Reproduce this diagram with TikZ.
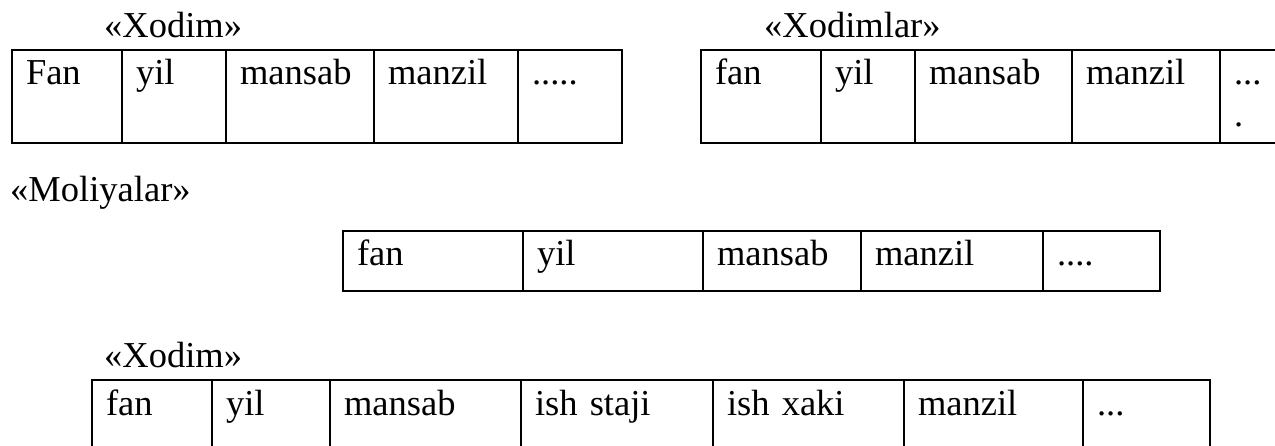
\documentclass[tikz,border=0pt]{standalone}
\usepackage{fontspec}
\setmainfont{Liberation Serif}
\usetikzlibrary{positioning}
\tikzset{
	cell/.style = {rectangle, draw=black, line width=2.2pt, outer sep=0pt, inner xsep=14pt, inner ysep=0pt, text height=35pt, align=left, text width=#1},
	tallrow/.style = {text depth=58pt},
	lowrow/.style = {text depth=25pt},
	openrow/.style = {text depth=60pt},
	title/.style = {anchor=base west, inner sep=0pt}
}
\begin{document}
\begin{tikzpicture}[x=1pt, y=-1pt, font=\fontsize{36.5pt}{42pt}\selectfont]
		
		\clip (0,0) rectangle (1275,446);
		
		% Top left: Xodim
		\node (xodim_title) [title] at (104,38) {«Xodim»};
		\node (xodim_fan) [cell=82, tallrow, anchor=north west] at (12,50) {Fan};
		\node (xodim_yil) [cell=76, tallrow, right=0pt of xodim_fan] {yil};
		\node (xodim_mansab) [cell=120, tallrow, right=0pt of xodim_yil] {mansab};
		\node (xodim_manzil) [cell=116, tallrow, right=0pt of xodim_mansab] {manzil};
		\node (xodim_etc) [cell=76, tallrow, right=0pt of xodim_manzil] {.....};
		
		% Top right: Xodimlar
		\node (xodimlar_title) [title] at (764,38) {«Xodimlar»};
		\node (xodimlar_fan) [cell=92, tallrow, anchor=north west] at (701,50) {fan};
		\node (xodimlar_yil) [cell=66, tallrow, right=0pt of xodimlar_fan] {yil};
		\node (xodimlar_mansab) [cell=129, tallrow, right=0pt of xodimlar_yil] {mansab};
		\node (xodimlar_manzil) [cell=120, tallrow, right=0pt of xodimlar_mansab] {manzil};
		\node (xodimlar_etc) [cell=42, tallrow, right=0pt of xodimlar_manzil] {\vtop{\hbox{...}\hbox{.}}};
		
		% Middle: Moliyalar
		\node (moliyalar_title) [title] at (10,202) {«Moliyalar»};
		\node (moliyalar_fan) [cell=152, lowrow, anchor=north west] at (343,231) {fan};
		\node (moliyalar_yil) [cell=152, lowrow, right=0pt of moliyalar_fan] {yil};
		\node (moliyalar_mansab) [cell=130, lowrow, right=0pt of moliyalar_yil] {mansab};
		\node (moliyalar_manzil) [cell=154, lowrow, right=0pt of moliyalar_mansab] {manzil};
		\node (moliyalar_etc) [cell=89, lowrow, right=0pt of moliyalar_manzil] {....};
		
		% Bottom: Xodim
		\node (xodim2_title) [title] at (104,368) {«Xodim»};
		\node (xodim2_fan) [cell=92, openrow, anchor=north west] at (92,380) {fan};
		\node (xodim2_yil) [cell=90, openrow, right=0pt of xodim2_fan] {yil};
		\node (xodim2_mansab) [cell=163, openrow, right=0pt of xodim2_yil] {mansab};
		\node (xodim2_staj) [cell=164, openrow, right=0pt of xodim2_mansab] {ish staji};
		\node (xodim2_xaki) [cell=163, openrow, right=0pt of xodim2_staj] {ish xaki};
		\node (xodim2_manzil) [cell=151, openrow, right=0pt of xodim2_xaki] {manzil};
		\node (xodim2_etc) [cell=99, openrow, right=0pt of xodim2_manzil] {...};
		
	\end{tikzpicture}
\end{document}
